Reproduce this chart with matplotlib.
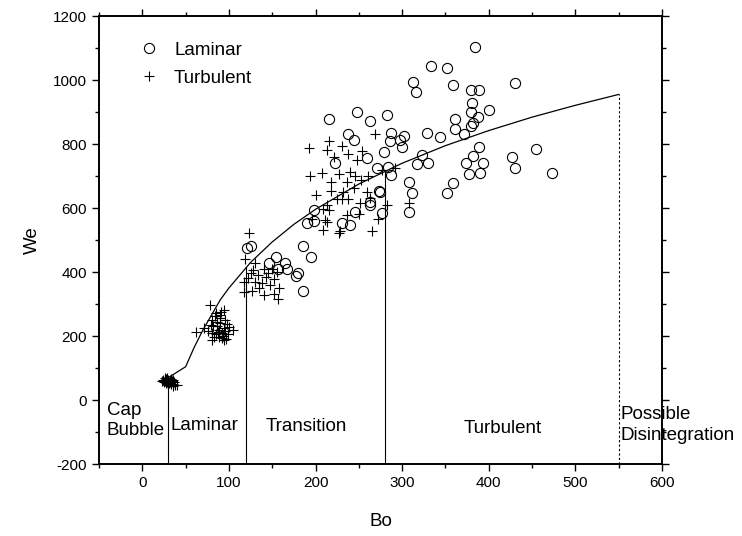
import matplotlib
matplotlib.use("Agg")
import matplotlib.pyplot as plt
from matplotlib.ticker import MultipleLocator

plt.rcParams['font.family'] = ['Liberation Sans', 'DejaVu Sans']
plt.rcParams['axes.unicode_minus'] = False

# Laminar bubble measurements (Bo, We)
laminar_bo = [384, 333, 352, 313, 316, 359, 380, 389, 430, 283, 381, 379, 400, 388,
              361, 382, 380, 361, 371, 329, 344, 287, 302, 298, 286, 389, 382, 374,
              393, 377, 390, 427, 430, 323, 317, 330, 279, 284, 287, 308, 311, 308,
              359, 352, 275, 277, 455, 473, 215, 248, 263, 238, 244, 271, 223, 259,
              273, 263, 263, 246, 240, 230, 198, 190, 198, 300, 186, 195, 121, 125,
              154, 146, 165, 167, 157, 180, 178, 185]
laminar_we = [1103, 1045, 1037, 993, 963, 986, 969, 970, 990, 892, 927, 900, 906, 883,
              877, 867, 856, 847, 832, 836, 821, 835, 826, 812, 809, 792, 762, 742,
              742, 706, 708, 760, 725, 766, 737, 740, 776, 729, 702, 680, 646, 588,
              677, 646, 651, 585, 784, 711, 877, 900, 873, 831, 812, 724, 742, 757,
              652, 620, 609, 588, 547, 552, 594, 554, 560, 790, 481, 448, 474, 481,
              448, 427, 429, 408, 411, 398, 388, 342]

# Turbulent bubble measurements (Bo, We)
turbulent_bo = [24, 26, 28, 30, 32, 27, 34, 36, 30, 25, 29, 33, 38, 35, 31, 23, 28, 32,
                37, 40, 27, 29, 33, 26, 35,
                78, 94, 90, 62, 71, 105, 98, 80, 94, 86, 82, 88, 85, 92, 96, 84, 90, 76,
                88, 100, 92, 80, 86, 96, 83, 90, 94, 87, 79, 99, 91, 85, 93, 97, 81,
                123, 119, 130, 140, 150, 125, 117, 130, 138, 152, 158, 117, 127, 140,
                152, 157, 128, 134, 145, 122, 148, 143, 135, 155,
                269, 215, 230, 192, 213, 221, 238, 248, 254, 194, 208, 227, 240, 218,
                236, 252, 218, 244, 259, 225, 230, 213, 238, 251, 263, 282, 209, 196,
                211, 236, 250, 272, 209, 228, 265, 227, 213, 292, 277, 308, 215, 232,
                245, 200, 260]
turbulent_we = [62, 68, 58, 64, 55, 52, 60, 50, 48, 56, 70, 66, 47, 45, 52, 60, 63, 58,
                55, 48, 66, 55, 50, 60, 62,
                296, 282, 266, 213, 224, 220, 236, 186, 188, 245, 230, 220, 205, 210,
                250, 262, 240, 215, 198, 228, 195, 250, 230, 215, 198, 255, 225, 212,
                235, 205, 275, 272, 200, 190, 208,
                521, 442, 427, 411, 411, 396, 370, 370, 365, 377, 349, 339, 342, 328,
                331, 315, 405, 392, 398, 380, 360, 383, 350, 400,
                830, 810, 795, 788, 781, 761, 768, 751, 778, 699, 708, 707, 713, 681,
                681, 689, 653, 662, 651, 628, 627, 610, 628, 616, 630, 611, 596, 566,
                562, 578, 581, 565, 532, 529, 529, 523, 557, 724, 719, 615, 595, 650,
                700, 640, 700]

# Regime boundary curve
curve_bo = [30, 50, 60, 70, 80, 90, 100, 125, 150, 175, 200, 250, 300, 350, 400, 450,
            500, 550]
curve_we = [70, 104, 165, 219, 266, 313, 350, 430, 494, 549, 596, 675, 740, 795, 842,
            884, 921, 955]

# Regime boundaries: Bo position and the We where each boundary meets the curve
boundary_bo = [30, 120, 280]
boundary_top = [65, 415, 715]
disintegration_bo = 550
disintegration_top = 955

regime_labels = ["Cap\nBubble", "Laminar", "Transition", "Turbulent",
                 "Possible\nDisintegration"]

fig = plt.figure(figsize=(7.42, 5.36), dpi=100)
ax = fig.add_axes([0.1334, 0.1343, 0.7588, 0.8358])

ax.plot(laminar_bo, laminar_we, linestyle='none', marker='o', markersize=7.3,
        markerfacecolor='none', markeredgecolor='black', markeredgewidth=0.8,
        label='Laminar', zorder=3)
ax.plot(turbulent_bo, turbulent_we, linestyle='none', marker='+', markersize=6.5,
        color='black', markeredgewidth=0.8, label='Turbulent', zorder=3)

ax.plot(curve_bo, curve_we, color='black', linewidth=0.9, zorder=2)

for bo, top in zip(boundary_bo, boundary_top):
    ax.plot([bo, bo], [-200, top], color='black', linewidth=0.8, zorder=2)
ax.plot([disintegration_bo, disintegration_bo], [-200, disintegration_top],
        color='black', linewidth=0.8, linestyle=(0, (2, 2)), zorder=2)

fs = 13.5
ax.text(-41, -64, regime_labels[0], fontsize=fs, ha='left', va='center', linespacing=1.3)
ax.text(72, -80, regime_labels[1], fontsize=fs, ha='center', va='center')
ax.text(189, -83, regime_labels[2], fontsize=fs, ha='center', va='center')
ax.text(416, -89, regime_labels[3], fontsize=fs, ha='center', va='center')
ax.text(552, -78, regime_labels[4], fontsize=fs, ha='left', va='center', linespacing=1.25,
        clip_on=False)

ax.set_xlim(-50, 600)
ax.set_ylim(-200, 1200)
ax.xaxis.set_major_locator(MultipleLocator(100))
ax.xaxis.set_minor_locator(MultipleLocator(50))
ax.yaxis.set_major_locator(MultipleLocator(200))
ax.yaxis.set_minor_locator(MultipleLocator(100))
ax.tick_params(which='both', direction='out', top=True, right=True,
               labeltop=False, labelright=False, width=1.0, labelsize=11)
ax.tick_params(which='major', length=5)
ax.tick_params(which='minor', length=3)
for sp in ax.spines.values():
    sp.set_linewidth(1.4)

ax.set_xlabel('Bo', fontsize=13.5, labelpad=17)
ax.set_ylabel('We', fontsize=13.5, labelpad=9)

ax.legend(loc='upper left', bbox_to_anchor=(0.055, 0.96), frameon=False,
          fontsize=fs, handletextpad=0.75, labelspacing=0.58, handlelength=1.2,
          borderaxespad=0)

fig.savefig('out.png', dpi=100)
